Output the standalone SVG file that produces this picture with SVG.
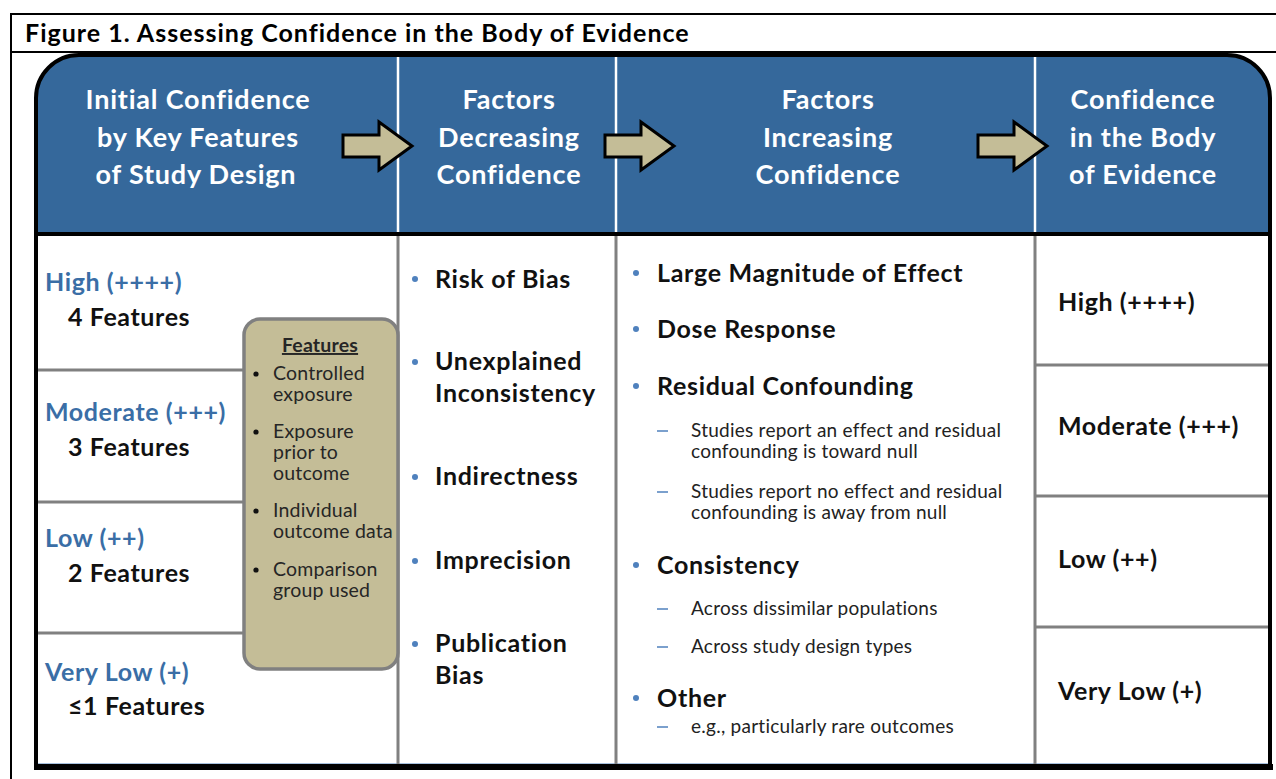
<svg xmlns="http://www.w3.org/2000/svg" width="1276" height="779" viewBox="0 0 1276 779">
<style>
text{font-family:Lato,"Liberation Sans",sans-serif}
.title{font-size:25px;font-weight:bold;fill:#000;letter-spacing:1px}
.hd{font-size:27px;font-weight:bold;fill:#fff;text-anchor:middle;letter-spacing:0.8px}
.lvl{font-size:25px;font-weight:bold;fill:#3A6EA6;letter-spacing:0.6px}
.feat{font-size:25px;font-weight:bold;fill:#111;letter-spacing:0.6px}
.item{font-size:25px;font-weight:bold;fill:#111;letter-spacing:0.7px}
.sub{font-size:19px;fill:#222;letter-spacing:0.25px}
.bx{font-size:19.5px;fill:#262626;letter-spacing:0.2px}
.bul{fill:#4F81BD}
.dash{stroke:#4F81BD;stroke-width:1.5}
.grid{stroke:#808080;stroke-width:3;fill:none}
.wdiv{stroke:#fff;stroke-width:2.5}
.arrow{fill:#C4BD97;stroke:#000;stroke-width:3;stroke-linejoin:miter}
</style>
<defs>
<path id="arr" d="M0,-11 H36 V-24 L69,0 L36,24 V11 H0 Z"/>
</defs>
<rect width="1276" height="779" fill="#fff"/>
<!-- outer frame -->
<g id="frame">
<path d="M1280,14 H11 V779" fill="none" stroke="#000" stroke-width="2"/>
<line x1="11" y1="52" x2="1276" y2="52" stroke="#000" stroke-width="2"/>
<text class="title" x="25" y="42">Figure 1. Assessing Confidence in the Body of Evidence</text>
</g>
<!-- panel -->
<g id="panel">
<path d="M36,234 V98 A43,43 0 0 1 79,55 H1227 A43,43 0 0 1 1270,98 V234 Z" fill="#35689B"/>
<rect x="36" y="234" width="1234" height="531" fill="#fff"/>
<line x1="36" y1="234" x2="1270" y2="234" stroke="#000" stroke-width="4"/>
<line x1="36" y1="764" x2="1270" y2="764" stroke="#4F81BD" stroke-width="1"/>
</g>
<g id="connectors">
<line class="wdiv" x1="398" y1="56" x2="398" y2="232"/>
<line class="wdiv" x1="616" y1="56" x2="616" y2="232"/>
<line class="wdiv" x1="1035" y1="56" x2="1035" y2="232"/>
<line class="grid" x1="398" y1="236" x2="398" y2="764"/>
<line class="grid" x1="616" y1="236" x2="616" y2="764"/>
<line class="grid" x1="1035" y1="236" x2="1035" y2="764"/>
<line class="grid" x1="36" y1="370" x2="245" y2="370"/>
<line class="grid" x1="36" y1="502" x2="245" y2="502"/>
<line class="grid" x1="36" y1="633" x2="245" y2="633"/>
<line class="grid" x1="1035" y1="365" x2="1270" y2="365"/>
<line class="grid" x1="1035" y1="496" x2="1270" y2="496"/>
<line class="grid" x1="1035" y1="627" x2="1270" y2="627"/>
<use href="#arr" class="arrow" transform="translate(343,146)"/>
<use href="#arr" class="arrow" transform="translate(605,146)"/>
<use href="#arr" class="arrow" transform="translate(978,146)"/>
</g>
<path d="M36,770 V98 A43,43 0 0 1 79,55 H1227 A43,43 0 0 1 1270,98 V770" fill="none" stroke="#000" stroke-width="4"/>
<rect x="34" y="764" width="1239" height="6" fill="#000"/>
<!-- headers -->
<g id="h1"><text class="hd" x="198" y="109">Initial Confidence</text><text class="hd" x="198" y="147">by Key Features</text><text class="hd" x="196" y="184">of Study Design</text></g>
<g id="h2"><text class="hd" x="509" y="109">Factors</text><text class="hd" x="509" y="147">Decreasing</text><text class="hd" x="509" y="184">Confidence</text></g>
<g id="h3"><text class="hd" x="828" y="109">Factors</text><text class="hd" x="828" y="147">Increasing</text><text class="hd" x="828" y="184">Confidence</text></g>
<g id="h4"><text class="hd" x="1143" y="109">Confidence</text><text class="hd" x="1143" y="147">in the Body</text><text class="hd" x="1143" y="184">of Evidence</text></g>
<!-- column 1 -->
<g id="initial">
<text class="lvl" x="45" y="291">High (++++)</text><text class="feat" x="68" y="326">4 Features</text>
<text class="lvl" x="45" y="421">Moderate (+++)</text><text class="feat" x="68" y="456">3 Features</text>
<text class="lvl" x="45" y="547">Low (++)</text><text class="feat" x="68" y="582">2 Features</text>
<text class="lvl" x="45" y="681">Very Low (+)</text><text class="feat" x="68" y="715">≤1 Features</text>
</g>
<g id="features">
<rect x="244" y="319" width="154" height="350" rx="16" fill="#C4BD97" stroke="#808080" stroke-width="3.5"/>
<text class="bx" x="320" y="352" text-anchor="middle" font-weight="bold" text-decoration="underline" fill="#111">Features</text>
<circle cx="256" cy="374" r="2.6" fill="#111"/><text class="bx" x="273" y="380">Controlled</text><text class="bx" x="273" y="401">exposure</text>
<circle cx="256" cy="432" r="2.6" fill="#111"/><text class="bx" x="273" y="438">Exposure</text><text class="bx" x="273" y="459">prior to</text><text class="bx" x="273" y="480">outcome</text>
<circle cx="256" cy="511" r="2.6" fill="#111"/><text class="bx" x="273" y="517">Individual</text><text class="bx" x="273" y="538">outcome data</text>
<circle cx="256" cy="570" r="2.6" fill="#111"/><text class="bx" x="273" y="576">Comparison</text><text class="bx" x="273" y="597">group used</text>
</g>
<!-- column 2 -->
<g id="decreasing">
<circle class="bul" cx="415" cy="279" r="3"/><text class="item" x="435" y="288">Risk of Bias</text>
<circle class="bul" cx="415" cy="362" r="3"/><text class="item" x="435" y="370">Unexplained</text><text class="item" x="435" y="402">Inconsistency</text>
<circle class="bul" cx="415" cy="477" r="3"/><text class="item" x="435" y="485">Indirectness</text>
<circle class="bul" cx="415" cy="561" r="3"/><text class="item" x="435" y="569">Imprecision</text>
<circle class="bul" cx="415" cy="644" r="3"/><text class="item" x="435" y="652">Publication</text><text class="item" x="435" y="684">Bias</text>
</g>
<!-- column 3 -->
<g id="increasing">
<circle class="bul" cx="636" cy="273" r="3"/><text class="item" x="657" y="282">Large Magnitude of Effect</text>
<circle class="bul" cx="636" cy="329" r="3"/><text class="item" x="657" y="338">Dose Response</text>
<circle class="bul" cx="636" cy="386" r="3"/><text class="item" x="657" y="395">Residual Confounding</text>
<line class="dash" x1="657" y1="431" x2="668" y2="431"/><text class="sub" x="691" y="437">Studies report an effect and residual</text><text class="sub" x="691" y="458">confounding is toward null</text>
<line class="dash" x1="657" y1="492" x2="668" y2="492"/><text class="sub" x="691" y="498">Studies report no effect and residual</text><text class="sub" x="691" y="519">confounding is away from null</text>
<circle class="bul" cx="636" cy="565" r="3"/><text class="item" x="657" y="574">Consistency</text>
<line class="dash" x1="657" y1="609" x2="668" y2="609"/><text class="sub" x="691" y="615">Across dissimilar populations</text>
<line class="dash" x1="657" y1="647" x2="668" y2="647"/><text class="sub" x="691" y="653">Across study design types</text>
<circle class="bul" cx="636" cy="698" r="3"/><text class="item" x="657" y="707">Other</text>
<line class="dash" x1="657" y1="727" x2="668" y2="727"/><text class="sub" x="691" y="733">e.g., particularly rare outcomes</text>
</g>
<!-- column 4 -->
<g id="body">
<text class="feat" x="1058" y="311">High (++++)</text>
<text class="feat" x="1058" y="435">Moderate (+++)</text>
<text class="feat" x="1058" y="568">Low (++)</text>
<text class="feat" x="1058" y="700">Very Low (+)</text>
</g>
</svg>
